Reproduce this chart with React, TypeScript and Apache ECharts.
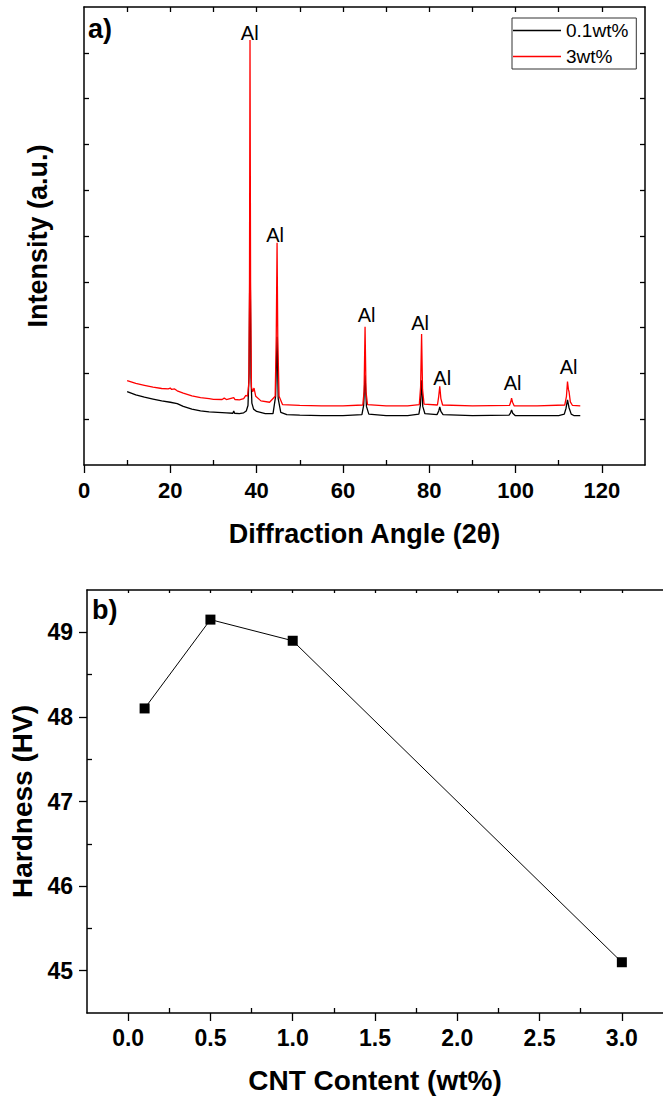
import React, { useEffect, useRef } from "react";
import * as echarts from "echarts";

const FONT = "'Liberation Sans', Arial, Helvetica, sans-serif";

// ---- Panel a) XRD patterns ----
const seriesNames = ["0.1wt%", "3wt%"];

const xrd01: [number, number][] = [
  [10, 160], [12, 153], [14, 148], [16, 144], [18, 140], [20, 137], [21.6, 134],
  [23, 128], [25, 122], [27, 118], [29, 116], [31, 115], [33, 114], [34.5, 113],
  [34.7, 118], [34.9, 113], [36, 112], [37, 114], [37.6, 118], [38.0, 130],
  [38.25, 200], [38.47, 500], [38.7, 190], [38.9, 135], [39.3, 122], [40, 117],
  [42, 112], [43.8, 112], [44.4, 150], [44.74, 280], [45.0, 145], [45.6, 115],
  [47, 110], [50, 109], [55, 108], [60, 108], [64.4, 110], [64.8, 130],
  [65.13, 196], [65.45, 128], [66, 111], [70, 108], [75, 108], [77.6, 111],
  [77.95, 130], [78.23, 185], [78.5, 128], [79, 112], [81.8, 110], [82.2, 118],
  [82.44, 127], [82.7, 117], [83.2, 110], [90, 108], [98.5, 109], [98.85, 114],
  [99.08, 120], [99.35, 113], [99.9, 108], [105, 108], [110, 108], [111.3, 111],
  [111.7, 124], [112.04, 142], [112.4, 125], [112.9, 111], [113.5, 108], [115, 108],
];

const xrd3: [number, number][] = [
  [10, 184], [12, 178], [14, 174], [16, 170], [18, 167], [19.5, 166], [20, 168],
  [20.3, 165], [21, 166], [21.6, 162], [23, 157], [25, 151], [27, 147], [29, 145],
  [30, 143.5], [32, 143], [32.5, 146], [33, 143], [34.7, 147], [35, 143], [36, 142],
  [37, 145], [37.5, 152], [37.9, 150], [38.2, 180], [38.35, 400], [38.47, 928],
  [38.6, 400], [38.8, 170], [39.1, 160], [39.4, 168], [39.8, 150], [41, 140],
  [43, 137], [44.3, 150], [44.55, 280], [44.74, 485], [44.9, 280], [45.2, 150],
  [46, 132], [50, 130], [55, 129], [60, 129], [64.6, 131], [64.9, 160],
  [65.13, 302], [65.35, 160], [65.7, 132], [70, 129], [75, 129], [77.7, 132],
  [78.0, 170], [78.23, 286], [78.45, 165], [78.8, 133], [81.9, 131], [82.2, 150],
  [82.44, 172], [82.7, 145], [83.1, 131], [90, 129], [98.6, 130], [98.9, 138],
  [99.08, 146], [99.3, 137], [99.7, 129], [105, 129], [111.4, 131], [111.8, 150],
  [112.04, 182], [112.25, 165], [112.4, 160], [112.7, 138], [113.2, 130], [115, 129],
];

const peakLabel = "Al";
const peakLabelPoints: [number, number][] = [
  [38.4, 943], [44.3, 502], [65.5, 327], [77.9, 311], [83.0, 191], [99.3, 180], [112.3, 213],
];

const twoThetaLabels = [0, 20, 40, 60, 80, 100, 120];
const twoThetaMinor = [10, 30, 50, 70, 90, 110];
const twoThetaTop = [10, 20, 30, 40, 50, 60, 70, 80, 90, 100, 110, 120];
const intensityTicks = [100, 200, 300, 400, 500, 600, 700, 800, 900];

// ---- Panel b) Hardness ----
const cntContent = [0.1, 0.5, 1.0, 3.0];
const hardness = [48.1, 49.15, 48.9, 45.1];
const cntLabels = [0, 0.5, 1.0, 1.5, 2.0, 2.5, 3.0];
const cntMinor = [0.25, 0.75, 1.25, 1.75, 2.25, 2.75];
const cntTop = [0, 0.25, 0.5, 0.75, 1, 1.25, 1.5, 1.75, 2, 2.25, 2.5, 2.75, 3];
const hardnessLabels = [45, 46, 47, 48, 49];
const hardnessMinor = [45.5, 46.5, 47.5, 48.5];

const axisLineStyle = { show: true, onZero: false, lineStyle: { color: "#000", width: 1.5 } };
const tickStyle = { color: "#000", width: 1.3 };

export default function App() {
  const ref = useRef<HTMLDivElement>(null);

  useEffect(() => {
    document.body.style.margin = "0";
    if (!ref.current) return;
    const chart = echarts.init(ref.current, undefined, { renderer: "svg" });

    const option: any = {
      animation: false,
      backgroundColor: "#fff",
      textStyle: { fontFamily: FONT },
      title: [
        {
          text: "a)", left: 88, top: 15, padding: 0,
          textStyle: { fontFamily: FONT, fontSize: 27, fontWeight: "bold", color: "#000" },
        },
        {
          text: "b)", left: 92, top: 596, padding: 0,
          textStyle: { fontFamily: FONT, fontSize: 27, fontWeight: "bold", color: "#000" },
        },
      ],
      legend: {
        data: seriesNames,
        orient: "vertical",
        left: 512,
        top: 18,
        icon: "rect",
        itemWidth: 48,
        itemHeight: 1.5,
        itemGap: 7,
        padding: [3, 8, 3, 1],
        borderColor: "#333",
        borderWidth: 1,
        backgroundColor: "#fff",
        selectedMode: false,
        textStyle: { fontFamily: FONT, fontSize: 19, color: "#000", lineHeight: 19 },
      },
      grid: [
        { left: 84, top: 7, width: 561, height: 458 },
        { left: 87, top: 590, width: 580, height: 423 },
      ],
      xAxis: [
        {
          type: "value", gridIndex: 0, position: "bottom", min: 0, max: 130,
          axisLine: axisLineStyle,
          axisTick: { show: true, inside: false, length: 8, lineStyle: tickStyle, customValues: twoThetaLabels },
          axisLabel: {
            show: true, customValues: twoThetaLabels, margin: 14,
            fontFamily: FONT, fontSize: 22, fontWeight: "bold", color: "#000",
          },
          splitLine: { show: false },
          name: "Diffraction Angle (2θ)",
          nameLocation: "middle",
          nameGap: 55,
          nameTextStyle: { fontFamily: FONT, fontSize: 27, fontWeight: "bold", color: "#000" },
        },
        {
          type: "value", gridIndex: 0, position: "bottom", min: 0, max: 130,
          axisLine: { show: false, onZero: false },
          axisTick: { show: true, inside: true, length: 5, lineStyle: tickStyle, customValues: twoThetaMinor },
          axisLabel: { show: false },
          splitLine: { show: false },
        },
        {
          type: "value", gridIndex: 0, position: "top", min: 0, max: 130,
          axisLine: axisLineStyle,
          axisTick: { show: true, inside: true, length: 5, lineStyle: tickStyle, customValues: twoThetaTop },
          axisLabel: { show: false },
          splitLine: { show: false },
        },
        {
          type: "value", gridIndex: 1, position: "bottom", min: -0.25, max: 3.25,
          axisLine: axisLineStyle,
          axisTick: { show: true, inside: false, length: 8, lineStyle: tickStyle, customValues: cntLabels },
          axisLabel: {
            show: true, customValues: cntLabels, margin: 13,
            formatter: (v: number) => v.toFixed(1),
            fontFamily: FONT, fontSize: 23, fontWeight: "bold", color: "#000",
          },
          splitLine: { show: false },
          name: "CNT Content (wt%)",
          nameLocation: "middle",
          nameGap: 53,
          nameTextStyle: { fontFamily: FONT, fontSize: 28, fontWeight: "bold", color: "#000" },
        },
        {
          type: "value", gridIndex: 1, position: "bottom", min: -0.25, max: 3.25,
          axisLine: { show: false, onZero: false },
          axisTick: { show: true, inside: true, length: 5, lineStyle: tickStyle, customValues: cntMinor },
          axisLabel: { show: false },
          splitLine: { show: false },
        },
        {
          type: "value", gridIndex: 1, position: "top", min: -0.25, max: 3.25,
          axisLine: axisLineStyle,
          axisTick: { show: true, inside: true, length: 3, lineStyle: tickStyle, customValues: cntTop },
          axisLabel: { show: false },
          splitLine: { show: false },
        },
      ],
      yAxis: [
        {
          type: "value", gridIndex: 0, position: "left", min: 0, max: 1000,
          axisLine: axisLineStyle,
          axisTick: { show: true, inside: true, length: 5, lineStyle: tickStyle, customValues: intensityTicks },
          axisLabel: { show: false },
          splitLine: { show: false },
          name: "Intensity (a.u.)",
          nameLocation: "middle",
          nameGap: 33,
          nameTextStyle: { fontFamily: FONT, fontSize: 27, fontWeight: "bold", color: "#000" },
        },
        {
          type: "value", gridIndex: 0, position: "right", min: 0, max: 1000,
          axisLine: axisLineStyle,
          axisTick: { show: true, inside: true, length: 5, lineStyle: tickStyle, customValues: intensityTicks },
          axisLabel: { show: false },
          splitLine: { show: false },
        },
        {
          type: "value", gridIndex: 1, position: "left", min: 44.5, max: 49.5,
          axisLine: axisLineStyle,
          axisTick: { show: true, inside: false, length: 8, lineStyle: tickStyle, customValues: hardnessLabels },
          axisLabel: {
            show: true, customValues: hardnessLabels, margin: 14,
            fontFamily: FONT, fontSize: 23, fontWeight: "bold", color: "#000",
          },
          splitLine: { show: false },
          name: "Hardness (HV)",
          nameLocation: "middle",
          nameGap: 50,
          nameTextStyle: { fontFamily: FONT, fontSize: 28, fontWeight: "bold", color: "#000" },
        },
        {
          type: "value", gridIndex: 1, position: "left", min: 44.5, max: 49.5,
          axisLine: { show: false, onZero: false },
          axisTick: { show: true, inside: true, length: 5, lineStyle: tickStyle, customValues: hardnessMinor },
          axisLabel: { show: false },
          splitLine: { show: false },
        },
      ],
      series: [
        {
          name: seriesNames[0], type: "line", xAxisIndex: 0, yAxisIndex: 0,
          data: xrd01, symbol: "none", color: "#000",
          lineStyle: { color: "#000", width: 1.3 },
        },
        {
          name: seriesNames[1], type: "line", xAxisIndex: 0, yAxisIndex: 0,
          data: xrd3, symbol: "none", color: "#ff0000",
          lineStyle: { color: "#ff0000", width: 1.3 },
        },
        {
          name: "peaks", type: "scatter", xAxisIndex: 0, yAxisIndex: 0,
          data: peakLabelPoints, symbolSize: 1,
          itemStyle: { color: "rgba(0,0,0,0)" },
          silent: true,
          label: {
            show: true, position: "inside", formatter: peakLabel,
            fontFamily: FONT, fontSize: 20, color: "#000",
            textBorderWidth: 0, opacity: 1,
          },
        },
        {
          name: "Hardness", type: "line", xAxisIndex: 3, yAxisIndex: 2,
          data: cntContent.map((c, i) => [c, hardness[i]]),
          symbol: "rect", symbolSize: 10, color: "#000",
          itemStyle: { color: "#000" },
          lineStyle: { color: "#000", width: 1 },
        },
      ],
    };

    chart.setOption(option);
    return () => chart.dispose();
  }, []);

  return <div ref={ref} style={{ width: 663, height: 1098 }} />;
}
